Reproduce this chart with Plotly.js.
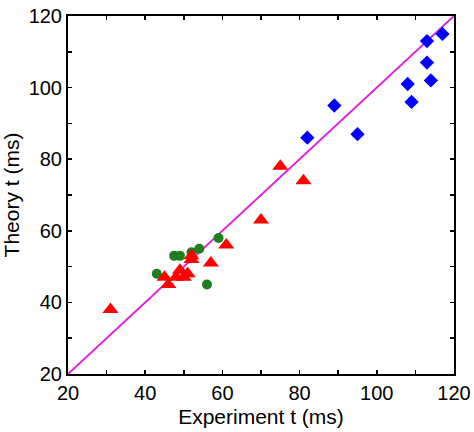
<!DOCTYPE html>
<html>
<head>
<meta charset="utf-8">
<script src="https://cdn.plot.ly/plotly-3.0.1.min.js"></script>
<style>html,body{margin:0;padding:0;background:#fff;}#chart{width:474px;height:432px;}</style>
</head>
<body>
<div id="chart"></div>
<script>
// Identity reference line
const lineX = [20, 120];
const lineY = [20, 120];

// Red triangles
const triX = [31, 45, 46, 48, 49, 50, 51, 52, 52, 57, 61, 70, 75, 81];
const triY = [38, 47, 45, 47, 49, 47, 48, 53, 52, 51, 56, 63, 78, 74];

// Green circles
const circX = [43, 47.5, 49, 52, 54, 59, 56];
const circY = [48, 53, 53, 54, 55, 58, 45];

// Blue diamonds
const diaX = [82, 89, 95, 108, 109, 113, 113, 114, 117];
const diaY = [86, 95, 87, 101, 96, 113, 107, 102, 115];

const tickVals = [20, 40, 60, 80, 100, 120];

const traces = [
  {x: lineX, y: lineY, mode: 'lines', type: 'scatter',
   line: {color: '#E020E0', width: 2}, hoverinfo: 'skip'},
  {x: circX, y: circY, mode: 'markers', type: 'scatter',
   marker: {symbol: 'circle', size: 10, color: '#1E7F1E'}},
  {x: triX, y: triY, mode: 'markers', type: 'scatter',
   marker: {symbol: 'triangle-up', size: 14, color: '#FF0000'}},
  {x: diaX, y: diaY, mode: 'markers', type: 'scatter',
   marker: {symbol: 'diamond', size: 11, color: '#0000FF'}}
];

const FONT = 'Liberation Sans, Arial, sans-serif';

const axisCommon = {
  range: [20, 120],
  tickvals: tickVals,
  ticks: 'inside',
  ticklen: 4,
  tickwidth: 1.5,
  tickcolor: '#000',
  showline: true,
  linewidth: 2,
  linecolor: '#000',
  mirror: 'ticks',
  showgrid: false,
  zeroline: false,
  tickfont: {family: FONT, size: 20, color: '#000'},
  minor: {dtick: 10, ticks: 'inside', ticklen: 4, tickwidth: 1.5, tickcolor: '#000', showgrid: false}
};

const layout = {
  width: 474, height: 432,
  margin: {l: 68, r: 20, t: 16, b: 58},
  paper_bgcolor: '#fff', plot_bgcolor: '#fff',
  showlegend: false,
  xaxis: Object.assign({}, axisCommon, {
    title: {text: 'Experiment t (ms)', font: {family: FONT, size: 21, color: '#000'}, standoff: 6}
  }),
  yaxis: Object.assign({}, axisCommon, {
    title: {text: 'Theory t (ms)', font: {family: FONT, size: 21, color: '#000'}, standoff: 4}
  })
};

Plotly.newPlot('chart', traces, layout, {displayModeBar: false, staticPlot: true});
</script>
</body>
</html>
